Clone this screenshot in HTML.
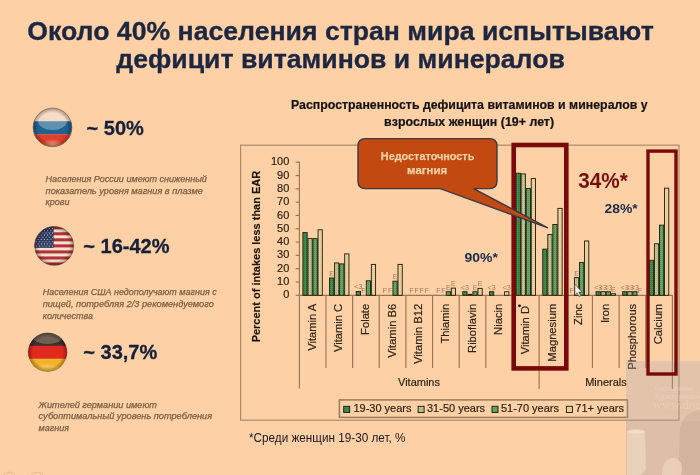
<!DOCTYPE html>
<html><head><meta charset="utf-8"><style>
html,body{margin:0;padding:0;}
body{width:700px;height:475px;overflow:hidden;background:#fdd0a6;position:relative;font-family:"Liberation Sans",Arial,sans-serif;}
svg{position:absolute;left:0;top:0;will-change:transform;}
.ax{stroke:#977656;stroke-width:1.15;}
.tk{font:11px "Liberation Sans",sans-serif;fill:#2e2418;stroke:#2e2418;stroke-width:0.2;text-anchor:end;}
.cl{font:11.2px "Liberation Sans",sans-serif;fill:#2e2418;stroke:#2e2418;stroke-width:0.2;text-anchor:end;}
.gl{font:11px "Liberation Sans",sans-serif;fill:#2e2418;stroke:#2e2418;stroke-width:0.2;text-anchor:middle;}
.lg{font:11px "Liberation Sans",sans-serif;fill:#2e2418;stroke:#2e2418;stroke-width:0.2;}
.yt{font:bold 11.2px "Liberation Sans",sans-serif;fill:#1b140c;stroke:#1b140c;stroke-width:0.15;text-anchor:middle;}
.sm{font:7px "Liberation Sans",sans-serif;fill:#9b7a58;text-anchor:middle;}
.t{font-family:"Liberation Sans",sans-serif;}
</style></head><body>
<svg width="700" height="475" viewBox="0 0 700 475">
<defs>
<pattern id="p1" width="2" height="2" patternUnits="userSpaceOnUse"><rect width="2" height="2" fill="#3d8f52"/><rect width="1" height="1" fill="#2f7a40"/></pattern>
<pattern id="p2" width="2" height="2" patternUnits="userSpaceOnUse"><rect width="2" height="2" fill="#bfc590"/><rect width="1" height="1" fill="#aab37c"/></pattern>
<pattern id="p3" width="2" height="2" patternUnits="userSpaceOnUse"><rect width="2" height="2" fill="#62a866"/><rect width="1" height="1" fill="#4d9856"/></pattern>
<pattern id="p4" width="2" height="2" patternUnits="userSpaceOnUse"><rect width="2" height="2" fill="#ead3a2"/><rect width="1" height="1" fill="#dcc490"/></pattern>
<radialGradient id="gl" cx="0.5" cy="0.3" r="0.5"><stop offset="0" stop-color="#fff" stop-opacity="0.35"/><stop offset="1" stop-color="#fff" stop-opacity="0"/></radialGradient>
<radialGradient id="vig" cx="0.5" cy="0.5" r="0.5"><stop offset="0.75" stop-color="#000" stop-opacity="0"/><stop offset="1" stop-color="#000" stop-opacity="0.35"/></radialGradient>
<radialGradient id="glowR" cx="0.5" cy="0.5" r="0.5"><stop offset="0" stop-color="#f8b090" stop-opacity="0.9"/><stop offset="1" stop-color="#f8b090" stop-opacity="0"/></radialGradient>
<clipPath id="cRU"><circle cx="52.5" cy="127.4" r="19.6"/></clipPath>
<clipPath id="cUS"><circle cx="54.2" cy="245.9" r="19.7"/></clipPath>
<clipPath id="cDE"><circle cx="47.6" cy="352.3" r="19.6"/></clipPath>
</defs>

<!-- Title -->
<text x="340.5" y="39.8" text-anchor="middle" font-weight="bold" font-size="26.5" fill="#1d2741" stroke="#1d2741" stroke-width="0.35" class="t" textLength="626.5" lengthAdjust="spacingAndGlyphs">Около 40% населения стран мира испытывают</text>
<text x="340.6" y="68.3" text-anchor="middle" font-weight="bold" font-size="26.5" fill="#1d2741" stroke="#1d2741" stroke-width="0.35" class="t" textLength="448.5" lengthAdjust="spacingAndGlyphs">дефицит витаминов и минералов</text>

<!-- Flags -->
<g clip-path="url(#cRU)">
<rect x="32" y="107" width="42" height="15" fill="#f6dcc5"/>
<rect x="32" y="121.3" width="42" height="13.1" fill="#1f6190"/>
<rect x="32" y="134.3" width="42" height="14" fill="#df3f2b"/>
<path d="M38,121.3 H67 A14.5,8.7 0 0 1 38,121.3 Z" fill="#ffffff" opacity="0.3"/>
<ellipse cx="52.5" cy="145" rx="12" ry="6" fill="url(#glowR)"/>
<circle cx="52.5" cy="127.4" r="19.6" fill="url(#vig)"/>
</g>
<circle cx="52.5" cy="127.4" r="19.3" fill="none" stroke="#8d6c52" stroke-width="0.9" opacity="0.8"/>

<g clip-path="url(#cUS)">
<rect x="34" y="226" width="41" height="41" fill="#f3e2cb"/>
<rect x="34" y="226.20" width="41" height="3.05" fill="#b3303a"/><rect x="34" y="232.25" width="41" height="3.05" fill="#b3303a"/><rect x="34" y="238.30" width="41" height="3.05" fill="#b3303a"/><rect x="34" y="244.35" width="41" height="3.05" fill="#b3303a"/><rect x="34" y="250.40" width="41" height="3.05" fill="#b3303a"/><rect x="34" y="256.45" width="41" height="3.05" fill="#b3303a"/><rect x="34" y="262.50" width="41" height="3.05" fill="#b3303a"/>
<rect x="34" y="226" width="19.6" height="21.8" fill="#2c3a5e"/>
<circle cx="36.5" cy="228.5" r="0.55" fill="#e8e4ee"/><circle cx="39.7" cy="228.5" r="0.55" fill="#e8e4ee"/><circle cx="42.9" cy="228.5" r="0.55" fill="#e8e4ee"/><circle cx="46.1" cy="228.5" r="0.55" fill="#e8e4ee"/><circle cx="49.3" cy="228.5" r="0.55" fill="#e8e4ee"/><circle cx="52.5" cy="228.5" r="0.55" fill="#e8e4ee"/><circle cx="38.1" cy="230.7" r="0.55" fill="#e8e4ee"/><circle cx="41.3" cy="230.7" r="0.55" fill="#e8e4ee"/><circle cx="44.5" cy="230.7" r="0.55" fill="#e8e4ee"/><circle cx="47.7" cy="230.7" r="0.55" fill="#e8e4ee"/><circle cx="50.9" cy="230.7" r="0.55" fill="#e8e4ee"/><circle cx="36.5" cy="232.9" r="0.55" fill="#e8e4ee"/><circle cx="39.7" cy="232.9" r="0.55" fill="#e8e4ee"/><circle cx="42.9" cy="232.9" r="0.55" fill="#e8e4ee"/><circle cx="46.1" cy="232.9" r="0.55" fill="#e8e4ee"/><circle cx="49.3" cy="232.9" r="0.55" fill="#e8e4ee"/><circle cx="52.5" cy="232.9" r="0.55" fill="#e8e4ee"/><circle cx="38.1" cy="235.1" r="0.55" fill="#e8e4ee"/><circle cx="41.3" cy="235.1" r="0.55" fill="#e8e4ee"/><circle cx="44.5" cy="235.1" r="0.55" fill="#e8e4ee"/><circle cx="47.7" cy="235.1" r="0.55" fill="#e8e4ee"/><circle cx="50.9" cy="235.1" r="0.55" fill="#e8e4ee"/><circle cx="36.5" cy="237.3" r="0.55" fill="#e8e4ee"/><circle cx="39.7" cy="237.3" r="0.55" fill="#e8e4ee"/><circle cx="42.9" cy="237.3" r="0.55" fill="#e8e4ee"/><circle cx="46.1" cy="237.3" r="0.55" fill="#e8e4ee"/><circle cx="49.3" cy="237.3" r="0.55" fill="#e8e4ee"/><circle cx="52.5" cy="237.3" r="0.55" fill="#e8e4ee"/><circle cx="38.1" cy="239.5" r="0.55" fill="#e8e4ee"/><circle cx="41.3" cy="239.5" r="0.55" fill="#e8e4ee"/><circle cx="44.5" cy="239.5" r="0.55" fill="#e8e4ee"/><circle cx="47.7" cy="239.5" r="0.55" fill="#e8e4ee"/><circle cx="50.9" cy="239.5" r="0.55" fill="#e8e4ee"/><circle cx="36.5" cy="241.7" r="0.55" fill="#e8e4ee"/><circle cx="39.7" cy="241.7" r="0.55" fill="#e8e4ee"/><circle cx="42.9" cy="241.7" r="0.55" fill="#e8e4ee"/><circle cx="46.1" cy="241.7" r="0.55" fill="#e8e4ee"/><circle cx="49.3" cy="241.7" r="0.55" fill="#e8e4ee"/><circle cx="52.5" cy="241.7" r="0.55" fill="#e8e4ee"/><circle cx="38.1" cy="243.9" r="0.55" fill="#e8e4ee"/><circle cx="41.3" cy="243.9" r="0.55" fill="#e8e4ee"/><circle cx="44.5" cy="243.9" r="0.55" fill="#e8e4ee"/><circle cx="47.7" cy="243.9" r="0.55" fill="#e8e4ee"/><circle cx="50.9" cy="243.9" r="0.55" fill="#e8e4ee"/><circle cx="36.5" cy="246.1" r="0.55" fill="#e8e4ee"/><circle cx="39.7" cy="246.1" r="0.55" fill="#e8e4ee"/><circle cx="42.9" cy="246.1" r="0.55" fill="#e8e4ee"/><circle cx="46.1" cy="246.1" r="0.55" fill="#e8e4ee"/><circle cx="49.3" cy="246.1" r="0.55" fill="#e8e4ee"/><circle cx="52.5" cy="246.1" r="0.55" fill="#e8e4ee"/>
<circle cx="54.2" cy="245.9" r="19.7" fill="url(#vig)"/>
</g>
<circle cx="54.2" cy="245.9" r="19.4" fill="none" stroke="#6b4636" stroke-width="0.8" opacity="0.7"/>

<g clip-path="url(#cDE)">
<rect x="27" y="332" width="42" height="14" fill="#3a3230"/>
<rect x="27" y="345.7" width="42" height="13.2" fill="#e12a1f"/>
<rect x="27" y="358.8" width="42" height="14" fill="#f2b22a"/>
<ellipse cx="47.6" cy="338" rx="14" ry="6" fill="#a08870" opacity="0.55"/>
<ellipse cx="47.6" cy="369" rx="12" ry="4.5" fill="#f8d070" opacity="0.5"/>
<circle cx="47.6" cy="352.3" r="19.6" fill="url(#vig)"/>
</g>

<!-- Percent labels -->
<text x="86.6" y="134.9" font-weight="bold" font-size="20" fill="#152039" stroke="#152039" stroke-width="0.3" class="t">~ 50%</text>
<text x="83.3" y="253.1" font-weight="bold" font-size="20" fill="#152039" stroke="#152039" stroke-width="0.3" class="t">~ 16-42%</text>
<text x="83.3" y="359.3" font-weight="bold" font-size="20" fill="#152039" stroke="#152039" stroke-width="0.3" class="t">~ 33,7%</text>

<!-- Notes -->
<g font-style="italic" font-size="9" fill="#7a5b40" stroke="#7a5b40" stroke-width="0.25" class="t">
<text x="45.6" y="181.6" textLength="161.3" lengthAdjust="spacingAndGlyphs">Населения России имеют сниженный</text>
<text x="45.6" y="193.6" textLength="157.3" lengthAdjust="spacingAndGlyphs">показатель уровня магния в плазме</text>
<text x="45.6" y="205.4">крови</text>
<text x="42.7" y="295.2" textLength="174.0" lengthAdjust="spacingAndGlyphs">Населения США недополучают магния с</text>
<text x="42.7" y="306.9" textLength="171.1" lengthAdjust="spacingAndGlyphs">пищей, потребляя 2/3 рекомендуемого</text>
<text x="42.7" y="318.7">количества</text>
<text x="38.6" y="407.9" textLength="118.3" lengthAdjust="spacingAndGlyphs">Жителей германии имеют</text>
<text x="38.6" y="419.4" textLength="173.5" lengthAdjust="spacingAndGlyphs">субоптимальный уровень потребления</text>
<text x="38.6" y="430.8">магния</text>
</g>

<!-- Chart subtitle -->
<text x="469.3" y="108.6" text-anchor="middle" font-weight="bold" font-size="12.3" fill="#141210" stroke="#141210" stroke-width="0.2" class="t" textLength="356.5" lengthAdjust="spacingAndGlyphs">Распространенность дефицита витаминов и минералов у</text>
<text x="469.1" y="125.7" text-anchor="middle" font-weight="bold" font-size="12.3" fill="#141210" stroke="#141210" stroke-width="0.2" class="t" textLength="170" lengthAdjust="spacingAndGlyphs">взрослых женщин (19+ лет)</text>

<!-- Chart -->
<rect x="240.6" y="145.2" width="438.4" height="275" fill="none" stroke="#a88b6c" stroke-width="1.2"/>
<line x1="299.4" y1="161.6" x2="299.4" y2="388.5" class="ax"/>
<line x1="299.4" y1="295.3" x2="672.5" y2="295.3" class="ax"/>
<line x1="295.6" y1="295.30" x2="299.4" y2="295.30" class="ax"/>
<text x="289.3" y="298.40" class="tk">0</text>
<line x1="295.6" y1="281.99" x2="299.4" y2="281.99" class="ax"/>
<text x="289.3" y="285.09" class="tk">10</text>
<line x1="295.6" y1="268.68" x2="299.4" y2="268.68" class="ax"/>
<text x="289.3" y="271.78" class="tk">20</text>
<line x1="295.6" y1="255.37" x2="299.4" y2="255.37" class="ax"/>
<text x="289.3" y="258.47" class="tk">30</text>
<line x1="295.6" y1="242.06" x2="299.4" y2="242.06" class="ax"/>
<text x="289.3" y="245.16" class="tk">40</text>
<line x1="295.6" y1="228.75" x2="299.4" y2="228.75" class="ax"/>
<text x="289.3" y="231.85" class="tk">50</text>
<line x1="295.6" y1="215.44" x2="299.4" y2="215.44" class="ax"/>
<text x="289.3" y="218.54" class="tk">60</text>
<line x1="295.6" y1="202.13" x2="299.4" y2="202.13" class="ax"/>
<text x="289.3" y="205.23" class="tk">70</text>
<line x1="295.6" y1="188.82" x2="299.4" y2="188.82" class="ax"/>
<text x="289.3" y="191.92" class="tk">80</text>
<line x1="295.6" y1="175.51" x2="299.4" y2="175.51" class="ax"/>
<text x="289.3" y="178.61" class="tk">90</text>
<line x1="295.6" y1="162.20" x2="299.4" y2="162.20" class="ax"/>
<text x="289.3" y="165.30" class="tk">100</text>
<line x1="325.95" y1="295.3" x2="325.95" y2="368.0" class="ax"/>
<line x1="352.60" y1="295.3" x2="352.60" y2="368.0" class="ax"/>
<line x1="379.25" y1="295.3" x2="379.25" y2="368.0" class="ax"/>
<line x1="405.90" y1="295.3" x2="405.90" y2="368.0" class="ax"/>
<line x1="432.55" y1="295.3" x2="432.55" y2="368.0" class="ax"/>
<line x1="459.20" y1="295.3" x2="459.20" y2="368.0" class="ax"/>
<line x1="485.85" y1="295.3" x2="485.85" y2="368.0" class="ax"/>
<line x1="512.50" y1="295.3" x2="512.50" y2="368.0" class="ax"/>
<line x1="539.15" y1="295.3" x2="539.15" y2="389.0" class="ax"/>
<line x1="565.80" y1="295.3" x2="565.80" y2="368.0" class="ax"/>
<line x1="592.45" y1="295.3" x2="592.45" y2="368.0" class="ax"/>
<line x1="619.10" y1="295.3" x2="619.10" y2="368.0" class="ax"/>
<line x1="645.75" y1="295.3" x2="645.75" y2="368.0" class="ax"/>
<line x1="672.40" y1="295.3" x2="672.40" y2="389.0" class="ax"/>
<rect x="302.90" y="232.61" width="4.25" height="62.69" fill="url(#p1)" stroke="#22180c" stroke-width="0.9"/>
<rect x="307.95" y="238.60" width="4.25" height="56.70" fill="url(#p2)" stroke="#22180c" stroke-width="0.9"/>
<rect x="313.00" y="238.60" width="4.25" height="56.70" fill="url(#p3)" stroke="#22180c" stroke-width="0.9"/>
<rect x="318.05" y="229.82" width="4.25" height="65.48" fill="url(#p4)" stroke="#22180c" stroke-width="0.9"/>
<rect x="329.55" y="278.00" width="4.25" height="17.30" fill="url(#p1)" stroke="#22180c" stroke-width="0.9"/>
<rect x="334.60" y="262.96" width="4.25" height="32.34" fill="url(#p2)" stroke="#22180c" stroke-width="0.9"/>
<rect x="339.65" y="263.89" width="4.25" height="31.41" fill="url(#p3)" stroke="#22180c" stroke-width="0.9"/>
<rect x="344.70" y="253.91" width="4.25" height="41.39" fill="url(#p4)" stroke="#22180c" stroke-width="0.9"/>
<rect x="356.20" y="291.44" width="4.25" height="3.86" fill="url(#p1)" stroke="#22180c" stroke-width="0.9"/>
<rect x="366.30" y="280.79" width="4.25" height="14.51" fill="url(#p3)" stroke="#22180c" stroke-width="0.9"/>
<rect x="371.35" y="264.42" width="4.25" height="30.88" fill="url(#p4)" stroke="#22180c" stroke-width="0.9"/>
<rect x="392.95" y="281.19" width="4.25" height="14.11" fill="url(#p3)" stroke="#22180c" stroke-width="0.9"/>
<rect x="398.00" y="264.42" width="4.25" height="30.88" fill="url(#p4)" stroke="#22180c" stroke-width="0.9"/>
<rect x="446.25" y="291.71" width="4.25" height="3.59" fill="url(#p3)" stroke="#22180c" stroke-width="0.9"/>
<rect x="451.30" y="288.11" width="4.25" height="7.19" fill="url(#p4)" stroke="#22180c" stroke-width="0.9"/>
<rect x="462.80" y="291.71" width="4.25" height="3.59" fill="url(#p1)" stroke="#22180c" stroke-width="0.9"/>
<rect x="467.85" y="294.37" width="4.25" height="0.93" fill="url(#p2)" stroke="#22180c" stroke-width="0.9"/>
<rect x="472.90" y="291.71" width="4.25" height="3.59" fill="url(#p3)" stroke="#22180c" stroke-width="0.9"/>
<rect x="477.95" y="288.38" width="4.25" height="6.92" fill="url(#p4)" stroke="#22180c" stroke-width="0.9"/>
<rect x="489.45" y="291.71" width="4.25" height="3.59" fill="url(#p1)" stroke="#22180c" stroke-width="0.9"/>
<rect x="504.60" y="291.71" width="4.25" height="3.59" fill="url(#p4)" stroke="#22180c" stroke-width="0.9"/>
<rect x="516.10" y="173.25" width="4.25" height="122.05" fill="url(#p1)" stroke="#22180c" stroke-width="0.9"/>
<rect x="521.15" y="173.91" width="4.25" height="121.39" fill="url(#p2)" stroke="#22180c" stroke-width="0.9"/>
<rect x="526.20" y="188.55" width="4.25" height="106.75" fill="url(#p3)" stroke="#22180c" stroke-width="0.9"/>
<rect x="531.25" y="178.57" width="4.25" height="116.73" fill="url(#p4)" stroke="#22180c" stroke-width="0.9"/>
<rect x="542.75" y="249.12" width="4.25" height="46.19" fill="url(#p1)" stroke="#22180c" stroke-width="0.9"/>
<rect x="547.80" y="234.47" width="4.25" height="60.83" fill="url(#p2)" stroke="#22180c" stroke-width="0.9"/>
<rect x="552.85" y="224.49" width="4.25" height="70.81" fill="url(#p3)" stroke="#22180c" stroke-width="0.9"/>
<rect x="557.90" y="208.39" width="4.25" height="86.91" fill="url(#p4)" stroke="#22180c" stroke-width="0.9"/>
<rect x="574.45" y="277.60" width="4.25" height="17.70" fill="url(#p2)" stroke="#22180c" stroke-width="0.9"/>
<rect x="579.50" y="262.56" width="4.25" height="32.74" fill="url(#p3)" stroke="#22180c" stroke-width="0.9"/>
<rect x="584.55" y="241.00" width="4.25" height="54.30" fill="url(#p4)" stroke="#22180c" stroke-width="0.9"/>
<rect x="596.05" y="291.71" width="4.25" height="3.59" fill="url(#p1)" stroke="#22180c" stroke-width="0.9"/>
<rect x="601.10" y="291.71" width="4.25" height="3.59" fill="url(#p2)" stroke="#22180c" stroke-width="0.9"/>
<rect x="606.15" y="291.71" width="4.25" height="3.59" fill="url(#p3)" stroke="#22180c" stroke-width="0.9"/>
<rect x="611.20" y="293.70" width="4.25" height="1.60" fill="url(#p4)" stroke="#22180c" stroke-width="0.9"/>
<rect x="622.70" y="291.71" width="4.25" height="3.59" fill="url(#p1)" stroke="#22180c" stroke-width="0.9"/>
<rect x="627.75" y="291.71" width="4.25" height="3.59" fill="url(#p2)" stroke="#22180c" stroke-width="0.9"/>
<rect x="632.80" y="291.71" width="4.25" height="3.59" fill="url(#p3)" stroke="#22180c" stroke-width="0.9"/>
<rect x="649.35" y="260.30" width="4.25" height="35.00" fill="url(#p1)" stroke="#22180c" stroke-width="0.9"/>
<rect x="654.40" y="243.79" width="4.25" height="51.51" fill="url(#p2)" stroke="#22180c" stroke-width="0.9"/>
<rect x="659.45" y="225.16" width="4.25" height="70.14" fill="url(#p3)" stroke="#22180c" stroke-width="0.9"/>
<rect x="664.50" y="188.16" width="4.25" height="107.14" fill="url(#p4)" stroke="#22180c" stroke-width="0.9"/>
<text x="331.67" y="276.00" class="sm">E</text>
<text x="358.32" y="289.44" class="sm">&lt;3</text>
<text x="363.38" y="293.10" class="sm">F</text>
<text x="384.97" y="293.10" class="sm">F</text>
<text x="390.02" y="293.10" class="sm">F</text>
<text x="395.07" y="279.19" class="sm">E</text>
<text x="411.62" y="293.10" class="sm">F</text>
<text x="416.67" y="293.10" class="sm">F</text>
<text x="421.72" y="293.10" class="sm">F</text>
<text x="426.77" y="293.10" class="sm">F</text>
<text x="438.27" y="293.10" class="sm">F</text>
<text x="443.32" y="293.10" class="sm">F</text>
<text x="448.38" y="289.71" class="sm">E</text>
<text x="453.42" y="286.11" class="sm">E</text>
<text x="464.92" y="289.71" class="sm">&lt;3</text>
<text x="475.02" y="289.71" class="sm">E</text>
<text x="480.07" y="286.38" class="sm">E</text>
<text x="491.57" y="289.71" class="sm">&lt;3</text>
<text x="506.72" y="289.71" class="sm">&lt;3</text>
<text x="571.52" y="293.10" class="sm">F</text>
<text x="576.57" y="275.60" class="sm">E</text>
<text x="598.18" y="289.71" class="sm">&lt;3</text>
<text x="603.23" y="289.71" class="sm">&lt;3</text>
<text x="608.28" y="289.71" class="sm">&lt;3</text>
<text x="613.33" y="291.70" class="sm">E</text>
<text x="624.82" y="289.71" class="sm">&lt;3</text>
<text x="629.87" y="289.71" class="sm">&lt;3</text>
<text x="634.92" y="289.71" class="sm">&lt;3</text>
<text x="639.97" y="293.10" class="sm">F</text>
<text transform="translate(315.82,303.80) rotate(-90)" class="cl">Vitamin A</text>
<text transform="translate(342.47,303.80) rotate(-90)" class="cl">Vitamin C</text>
<text transform="translate(369.12,303.80) rotate(-90)" class="cl">Folate</text>
<text transform="translate(395.77,303.80) rotate(-90)" class="cl">Vitamin B6</text>
<text transform="translate(422.42,303.80) rotate(-90)" class="cl">Vitamin B12</text>
<text transform="translate(449.07,303.80) rotate(-90)" class="cl">Thiamin</text>
<text transform="translate(475.72,303.80) rotate(-90)" class="cl">Riboflavin</text>
<text transform="translate(502.38,303.80) rotate(-90)" class="cl">Niacin</text>
<text transform="translate(529.03,306.00) rotate(-90)" class="cl">Vitamin D</text>
<circle cx="519.53" cy="305.80" r="1.4" fill="#111"/>
<text transform="translate(555.68,303.80) rotate(-90)" class="cl">Magnesium</text>
<text transform="translate(582.33,303.80) rotate(-90)" class="cl">Zinc</text>
<text transform="translate(608.98,303.80) rotate(-90)" class="cl">Iron</text>
<text transform="translate(635.62,303.80) rotate(-90)" class="cl">Phosphorous</text>
<text transform="translate(662.28,303.80) rotate(-90)" class="cl">Calcium</text>
<text x="419" y="385.7" class="gl">Vitamins</text>
<text x="606" y="385.7" class="gl">Minerals</text>
<text transform="translate(260.0,256.6) rotate(-90)" class="yt" textLength="171.5" lengthAdjust="spacingAndGlyphs">Percent of intakes less than EAR</text>
<rect x="339.4" y="399.9" width="288.1" height="17.5" fill="none" stroke="#9a7a5c" stroke-width="1.5"/>
<rect x="343.7" y="406.3" width="6" height="6.2" fill="url(#p1)" stroke="#1a1208" stroke-width="0.9"/>
<text x="353.4" y="412.2" class="lg">19-30 years</text>
<rect x="418.1" y="406.3" width="6" height="6.2" fill="url(#p2)" stroke="#1a1208" stroke-width="0.9"/>
<text x="427.0" y="412.2" class="lg">31-50 years</text>
<rect x="492.0" y="406.3" width="6" height="6.2" fill="url(#p3)" stroke="#1a1208" stroke-width="0.9"/>
<text x="500.9" y="412.2" class="lg">51-70 years</text>
<rect x="566.4" y="406.3" width="6" height="6.2" fill="url(#p4)" stroke="#1a1208" stroke-width="0.9"/>
<text x="575.3" y="412.2" class="lg">71+ years</text>

<!-- bottom-left circles -->
<circle cx="9.3" cy="479.5" r="7.3" fill="none" stroke="#d9b08e" stroke-width="0.9" opacity="0.8"/>
<circle cx="37.2" cy="479.5" r="7.3" fill="none" stroke="#d9b08e" stroke-width="0.9" opacity="0.8"/>
<!-- Overlay bottom-right -->
<g>
<rect x="626" y="361.2" width="74" height="114" fill="#aaa5b3" opacity="0.3"/>
<rect x="626" y="421" width="74" height="54" fill="#b09a90" opacity="0.10"/>
<path d="M700,410 Q684,412 680,428 L678,475 L700,475 Z" fill="#8a6a58" opacity="0.12"/>
<path d="M627,432 Q636,428.5 645,432 L646,468 Q644,475 636,475 L627,475 Z" fill="#efd9c2" opacity="0.7"/>
<ellipse cx="636" cy="431.5" rx="9" ry="2.2" fill="#f6e4d0" opacity="0.6"/>
<path d="M662,475 Q662,462 669,459 Q677,456 681,463 Q683,470 681,475 Z" fill="#efd3bb" opacity="0.75"/>
<g font-family="Liberation Serif, serif" fill="#f0d8c8" opacity="0.45">
<text x="655" y="391" font-size="8">бесплатная</text>
<text x="655" y="399" font-size="8">#доктороские</text>
<text x="653" y="408.5" font-size="12.5">www.doct</text>
</g>
</g>
<!-- Red boxes -->
<rect x="513.7" y="145.0" width="52.6" height="223.4" fill="none" stroke="#780a0b" stroke-width="4.6"/>
<rect x="648.0" y="151.1" width="28.0" height="222.9" fill="none" stroke="#780a0b" stroke-width="3.4"/>

<!-- Callout -->
<path d="M365.5,138.6 H489.5 Q497,138.6 497,146 V181.2 Q497,188.6 489.5,188.6 H473.6 L547.9,227.9 L440.2,188.6 H365.5 Q358,188.6 358,181.2 V146 Q358,138.6 365.5,138.6 Z" fill="#c2490f" stroke="#3d3a48" stroke-width="1.4"/>
<text x="427.6" y="160.1" text-anchor="middle" font-weight="bold" font-size="11" fill="#f7cfa6" stroke="#f7cfa6" stroke-width="0.25" class="t" textLength="93.5" lengthAdjust="spacingAndGlyphs">Недостаточность</text>
<text x="427.1" y="173.6" text-anchor="middle" font-weight="bold" font-size="11" fill="#f7cfa6" stroke="#f7cfa6" stroke-width="0.25" class="t" textLength="40" lengthAdjust="spacingAndGlyphs">магния</text>

<!-- Annotations -->
<text x="578.3" y="188.1" font-weight="bold" font-size="21.5" fill="#741012" class="t" textLength="49.5" lengthAdjust="spacingAndGlyphs">34%*</text>
<text x="604.5" y="212.5" font-weight="bold" font-size="13" fill="#1c2a4a" class="t" textLength="33.2" lengthAdjust="spacingAndGlyphs">28%*</text>
<text x="464.5" y="262.3" font-weight="bold" font-size="13.5" fill="#1c2a4a" class="t" textLength="33.4" lengthAdjust="spacingAndGlyphs">90%*</text>

<!-- Footnote -->
<text x="249" y="442.3" font-size="12.5" fill="#191722" class="t" textLength="156.5" lengthAdjust="spacingAndGlyphs">*Среди женщин 19-30 лет, %</text>

<!-- cursor -->
<path d="M574.8,284.2 L574.8,295 L577.2,292.7 L578.9,296.6 L580.6,295.9 L578.9,292.1 L582,292 Z" fill="#f6efe8" stroke="#4a3a30" stroke-width="0.6"/>
</svg>
</body></html>
